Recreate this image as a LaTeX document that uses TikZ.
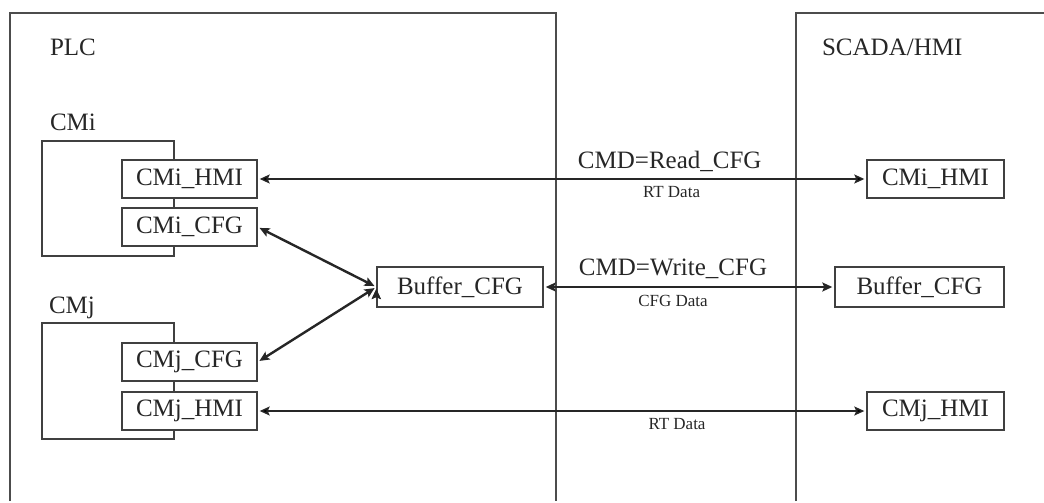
\documentclass[tikz,border=0pt]{standalone}
\usepackage{fontspec}
\setmainfont{Liberation Serif}
\usepackage{tikz}
\usetikzlibrary{arrows.meta}

\begin{document}
\begin{tikzpicture}[x=0.5pt,y=-0.5pt,>={Stealth[length=5pt,width=4.5pt,inset=1pt]},
  shorten >=1pt,shorten <=1pt,
  every node/.style={font=\fontsize{12.5}{15}\selectfont,text=black!85},
  frame/.style={draw=black!70,line width=0.75pt},
  grp/.style={draw=black!75,line width=0.6pt},
  blk/.style={draw=black!75,line width=0.7pt,fill=white,inner sep=0pt,minimum height=19pt},
  small/.style={font=\fontsize{8.5}{10}\selectfont},
  link/.style={draw=black!85,line width=0.7pt},
  biglink/.style={draw=black!85,line width=1.2pt}]

  \useasboundingbox (0,0) rectangle (1044,503);

  % two frames
  \draw[frame] (10,503) |- (556,13) -- (556,503);
  \draw[frame] (796,503) |- (1046,13);
  \node[anchor=west] (plc) at (43,47) {PLC};
  \node[anchor=west] (scada) at (815,47) {SCADA/HMI};

  % CM groups
  \node[anchor=west] (cmi) at (43,122) {CMi};
  \draw[grp] (42,141) rectangle (174,256);
  \node[anchor=west] (cmj) at (42,308) {CMj};
  \draw[grp] (42,323) rectangle (174,439);

  \node[blk,minimum width=67.5pt] (cmih) at (189.5,179) {CMi\_HMI};
  \node[blk,minimum width=67.5pt] (cmic) at (189.5,227) {CMi\_CFG};
  \node[blk,minimum width=67.5pt] (cmjc) at (189.5,362) {CMj\_CFG};
  \node[blk,minimum width=67.5pt] (cmjh) at (189.5,411) {CMj\_HMI};
  \node[blk,minimum width=83pt,minimum height=20pt] (buf) at (460,287) {Buffer\_CFG};

  % SCADA side
  \node[blk,minimum width=68.5pt] (scmih) at (935.5,179) {CMi\_HMI};
  \node[blk,minimum width=84.5pt,minimum height=20pt] (sbuf) at (919.5,287) {Buffer\_CFG};
  \node[blk,minimum width=68.5pt] (scmjh) at (935.5,411) {CMj\_HMI};

  \path[<->,link] (cmih) edge node[pos=.677,above] {CMD=Read\_CFG}
                              node[pos=.68,below,small] {RT Data} (scmih)
                  (cmjh) edge node[pos=.689,below,small] {RT Data} (scmjh);
  \path[<->,biglink] (buf) edge node[pos=.445,above] {CMD=Write\_CFG}
                               node[pos=.445,below,small] {CFG Data} (sbuf)
                     (buf.west) edge (cmic.east)
                     (buf.west) edge (cmjc.east);

\end{tikzpicture}
\end{document}
